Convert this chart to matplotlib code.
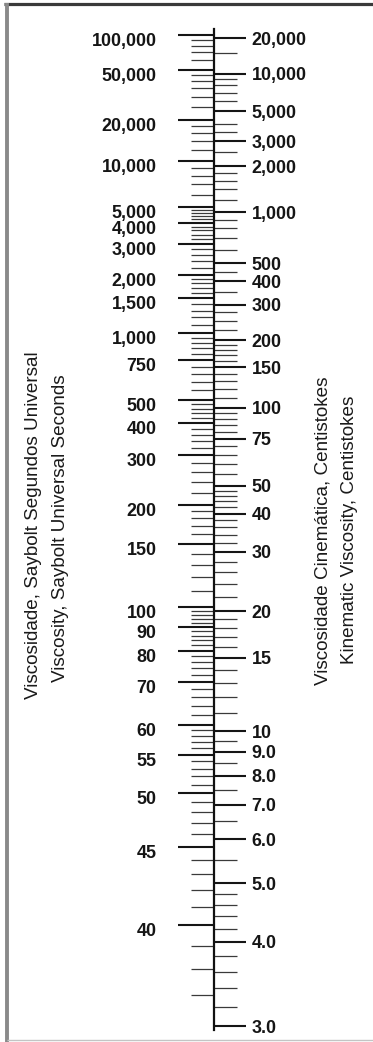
import numpy as np
import matplotlib
matplotlib.use("Agg")
import matplotlib.pyplot as plt
from matplotlib.lines import Line2D
import matplotlib.transforms as mtransforms

# ---------------- data ----------------
# Saybolt Universal Seconds (left side of the scale)
sus_major = [100000, 50000, 20000, 10000, 5000, 4000, 3000, 2000, 1500, 1000,
             750, 500, 400, 300, 200, 150, 100, 90, 80, 70, 60, 55, 50, 45, 40]
sus_minor = [90000, 80000, 70000, 60000,
             45000, 40000, 35000, 30000, 25000,
             18000, 16000, 14000, 12000,
             9000, 8000, 7000, 6000,
             4800, 4600, 4400, 4200,
             3800, 3600, 3400, 3200,
             2800, 2600, 2400, 2200,
             1900, 1800, 1700, 1600,
             1400, 1300, 1200, 1100,
             950, 900, 850, 800,
             700, 650, 600, 550,
             480, 460, 440, 420,
             380, 360, 340, 320,
             280, 260, 240, 220,
             190, 180, 170, 160,
             140, 130, 120, 110,
             98, 96, 94, 92,
             88, 86, 84, 82,
             78, 76, 74, 72,
             68, 66, 64, 62,
             59, 58, 57, 56,
             54, 53, 52, 51,
             49, 48, 47, 46,
             44, 43, 42, 41,
             39, 38, 37]
sus_labels = [f"{v:,}" for v in sus_major]

# Kinematic viscosity, centistokes (right side of the scale)
cst_major = [20000, 10000, 5000, 3000, 2000, 1000, 500, 400, 300, 200, 150,
             100, 75, 50, 40, 30, 20, 15, 10, 9.0, 8.0, 7.0, 6.0, 5.0, 4.0, 3.0]
cst_minor = [15000, 9000, 8000, 7000, 6000, 4000, 3500, 2500,
             1800, 1600, 1400, 1200, 900, 800, 700, 600, 450, 350,
             275, 250, 225, 190, 180, 170, 160, 140, 130, 120, 110,
             95, 90, 85, 80, 70, 65, 60, 55, 48, 46, 44, 42,
             38, 36, 34, 32, 28, 26, 24, 22, 19, 18, 17, 16,
             14, 13, 12, 11, 9.5, 8.5, 7.5, 6.5, 5.5,
             4.8, 4.6, 4.4, 4.2, 3.8, 3.6, 3.4, 3.2]
cst_labels = [f"{v:,.0f}" if v >= 10 else f"{v:.1f}" for v in cst_major]

left_titles = ["Viscosidade, Saybolt Segundos Universal",
               "Viscosity, Saybolt Universal Seconds"]
right_titles = ["Viscosidade Cinemática, Centistokes",
                "Kinematic Viscosity, Centistokes"]

# ---------------- scale definitions ----------------
WALTHER_C = 0.6


def cst_fwd(v):
    v = np.maximum(np.asarray(v, dtype=float), 0.5)
    return np.log10(np.log10(v + WALTHER_C))


def cst_inv(z):
    z = np.clip(np.asarray(z, dtype=float), -0.6, 1.2)
    return 10 ** (10 ** z) - WALTHER_C


def sus_from_cst(v):
    # ASTM D2161 conversion at 100 F
    v = np.asarray(v, dtype=float)
    return 4.6324 * v + (1.0 + 0.03264 * v) / (
        3930.2 + 262.7 * v + 23.97 * v ** 2 + 1.646 * v ** 3) * 1e5


_grid = np.logspace(-0.2, 6.5, 8000)
_grid_sus = sus_from_cst(_grid)


def cst_from_sus(s):
    s = np.maximum(np.asarray(s, dtype=float), 1e-3)
    return 10 ** np.interp(np.log10(s), np.log10(_grid_sus), np.log10(_grid))


def sus_fwd(s):
    return cst_fwd(cst_from_sus(s))


def sus_inv(z):
    return sus_from_cst(cst_inv(z))


# ---------------- layout / style ----------------
W, H = 373, 1042
Z_TOP, Z_BOT = 0.66817, -0.26863      # transformed-scale limits of the figure
AXIS_X = 213.5 / W                    # position of the scale line
LINE_PAD_TOP, LINE_PAD_BOT = 0.0055, 0.003
FONT = "Liberation Sans"
LABEL_SIZE = 12.9
TITLE_SIZE = 13.6

plt.rcParams["font.family"] = [FONT, "DejaVu Sans"]

fig = plt.figure(figsize=(W / 100, H / 100), dpi=100)
fig.patch.set_facecolor("white")

ax = fig.add_axes([0, 0, 1, 1])   # SUS (ticks to the left)
ax2 = ax.twinx()                  # cSt (ticks to the right)
for a in (ax, ax2):
    a.set_facecolor("none")
    a.xaxis.set_visible(False)
    for s in a.spines.values():
        s.set_visible(False)

ax2.set_yscale("function", functions=(cst_fwd, cst_inv))
ax2.set_ylim(cst_inv(Z_BOT), cst_inv(Z_TOP))
ax.set_yscale("function", functions=(sus_fwd, sus_inv))
ax.set_ylim(sus_inv(Z_BOT), sus_inv(Z_TOP))

# scale line
sp = ax2.spines["right"]
sp.set_visible(True)
sp.set_position(("axes", AXIS_X))
sp.set_linewidth(1.6)
sp.set_color("#111111")
line_top = cst_inv(sus_fwd(max(sus_major)) + LINE_PAD_TOP)
line_bot = cst_inv(cst_fwd(min(cst_major)) - LINE_PAD_BOT)
sp.set_bounds(line_bot, line_top)
ax.spines["left"].set_position(("axes", AXIS_X))

# SUS ticks
ax.yaxis.set_ticks_position("left")
ax.set_yticks(sus_major, labels=sus_labels, fontweight="bold", fontsize=LABEL_SIZE,
              family=[FONT, "DejaVu Sans"])
ax.set_yticks(sus_minor, minor=True)
ax.yaxis.set_minor_formatter(matplotlib.ticker.NullFormatter())
ax.tick_params(axis="y", which="major", direction="out", length=26, width=1.5,
               pad=15, colors="#151515")
ax.tick_params(axis="y", which="minor", direction="out", length=16.5,
               width=0.9, color="#3a3a3a")

# cSt ticks
ax2.yaxis.set_ticks_position("right")
ax2.set_yticks(cst_major, labels=cst_labels, fontweight="bold", fontsize=LABEL_SIZE,
               family=[FONT, "DejaVu Sans"])
ax2.set_yticks(cst_minor, minor=True)
ax2.yaxis.set_minor_formatter(matplotlib.ticker.NullFormatter())
ax2.tick_params(axis="y", which="major", direction="out", length=23, width=1.5,
                pad=4.5, colors="#151515")
ax2.tick_params(axis="y", which="minor", direction="out", length=16.5,
                width=0.9, color="#3a3a3a")

# left labels sit a little below their ticks in the reference
shift = mtransforms.ScaledTranslation(0, -4.5 / 100, fig.dpi_scale_trans)
for lbl in ax.get_yticklabels():
    lbl.set_transform(lbl.get_transform() + shift)

# rotated titles
title_kw = dict(rotation=90, ha="center", va="center", fontsize=TITLE_SIZE,
                color="#1a1a1a", family=[FONT, "DejaVu Sans"])
fig.text(34 / W, 1 - 525 / H, left_titles[0], **title_kw)
fig.text(61 / W, 1 - 528 / H, left_titles[1], **title_kw)
fig.text(323 / W, 1 - 531 / H, right_titles[0], **title_kw)
fig.text(349 / W, 1 - 530 / H, right_titles[1], **title_kw)

# frame of the scanned figure
fig.add_artist(Line2D([4 / W, 1], [1 - 4 / H, 1 - 4 / H], transform=fig.transFigure,
                      color="#3a3a3a", lw=2.3, solid_capstyle="butt"))
fig.add_artist(Line2D([6.5 / W, 6.5 / W], [0, 1 - 3 / H], transform=fig.transFigure,
                      color="#8a8a8a", lw=2.8, solid_capstyle="butt"))
fig.add_artist(Line2D([6.5 / W, 1], [1 - 1040 / H, 1 - 1040 / H], transform=fig.transFigure,
                      color="#c4c4c4", lw=1.0, solid_capstyle="butt"))

fig.savefig("out.png", dpi=100, facecolor="white")
